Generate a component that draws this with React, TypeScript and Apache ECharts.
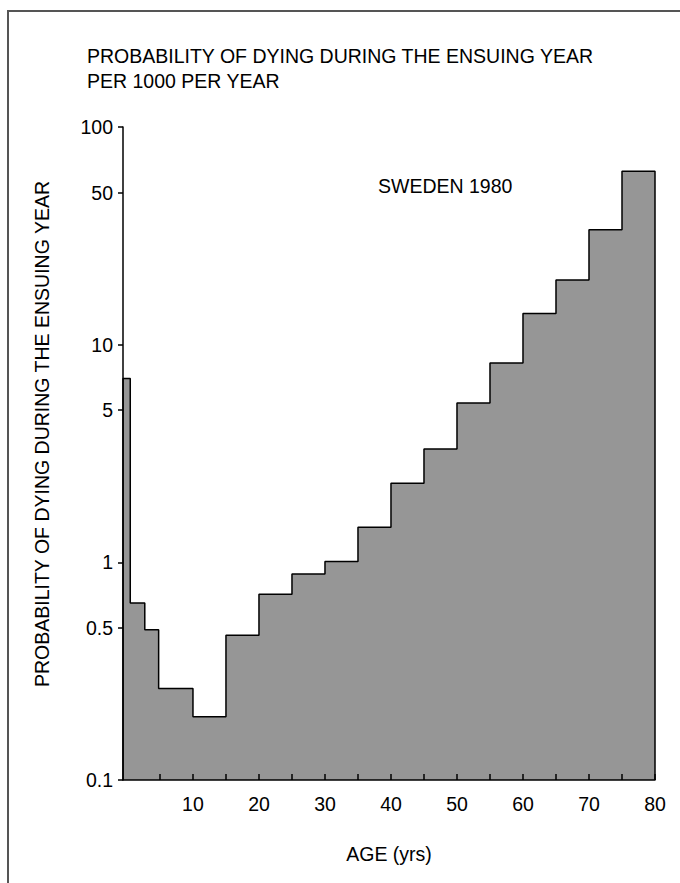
import React, { useEffect, useRef } from "react";
import * as echarts from "echarts";

// Age group start (years) of each step; last group ends at AGE_END
const ageStart = [-0.6, 0.5, 2.7, 4.8, 10, 15, 20, 25, 30, 35, 40, 45, 50, 55, 60, 65, 70, 75];
const AGE_END = 80;
// Probability of dying during the ensuing year, per 1000 per year
const probPer1000 = [7.0, 0.65, 0.49, 0.263, 0.195, 0.463, 0.713, 0.885, 1.01, 1.45, 2.31, 3.32, 5.4, 8.24, 13.9, 19.8, 33.7, 62.7];

const xTickValues = [5, 10, 15, 20, 25, 30, 35, 40, 45, 50, 55, 60, 65, 70, 75, 80];
const xLabelValues = [10, 20, 30, 40, 50, 60, 70, 80];
const yTickValues = [0.1, 0.5, 1, 5, 10, 50, 100];

const FONT = "Liberation Sans, Arial, sans-serif";
const FS = 19.5;

export default function App() {
  const ref = useRef<HTMLDivElement>(null);
  useEffect(() => {
    if (!ref.current) return;
    const chart = echarts.init(ref.current, undefined, { renderer: "svg" });
    const yMin = yTickValues[0];
    const yMax = yTickValues[yTickValues.length - 1];
    const data: number[][] = [[ageStart[0], yMin]];
    ageStart.forEach((a, i) => data.push([a, probPer1000[i]]));
    data.push([AGE_END, probPer1000[probPer1000.length - 1]]);
    data.push([AGE_END, yMin]);

    chart.setOption({
      animation: false,
      backgroundColor: "#fff",
      textStyle: { fontFamily: FONT },
      title: {
        text: "PROBABILITY OF DYING DURING THE ENSUING YEAR\nPER 1000 PER YEAR",
        left: 82,
        top: 38,
        textStyle: { fontSize: FS, fontWeight: "normal", color: "#000", fontFamily: FONT, lineHeight: 25 },
      },
      grid: { left: 123, right: 25, top: 127, bottom: 103 },
      xAxis: {
        type: "value",
        min: ageStart[0],
        max: AGE_END,
        z: 10,
        name: "AGE (yrs)",
        nameLocation: "middle",
        nameGap: 64,
        nameTextStyle: { fontSize: FS, color: "#000", fontFamily: FONT },
        axisLine: { onZero: false, lineStyle: { color: "#000", width: 1.5 } },
        axisTick: { show: true, inside: true, length: 6, customValues: xTickValues, lineStyle: { color: "#000", width: 1.5 } },
        axisLabel: { customValues: xLabelValues, fontSize: FS, color: "#000", margin: 14, fontFamily: FONT },
        splitLine: { show: false },
      },
      yAxis: {
        type: "log",
        logBase: 10,
        min: yMin,
        max: yMax,
        z: 10,
        axisLine: { show: true, onZero: false, lineStyle: { color: "#000", width: 1.5 } },
        axisTick: { show: true, length: 5, customValues: yTickValues, lineStyle: { color: "#000", width: 1.5 } },
        axisLabel: {
          customValues: yTickValues,
          fontSize: FS,
          color: "#000",
          margin: 10,
          fontFamily: FONT,
          formatter: (v: number) => String(+Number(v).toPrecision(3)),
        },
        splitLine: { show: false },
        minorTick: { show: false },
        minorSplitLine: { show: false },
      },
      graphic: [
        {
          type: "rect",
          shape: { x: 8, y: 11, width: 700, height: 900 },
          style: { fill: "none", stroke: "#555", lineWidth: 2 },
          silent: true,
        },
        {
          type: "text",
          x: 378,
          y: 186,
          style: { text: "SWEDEN 1980", fontSize: FS, fill: "#000", fontFamily: FONT, verticalAlign: "middle", align: "left" },
        },
        {
          type: "text",
          x: 42,
          y: 434,
          rotation: Math.PI / 2,
          style: {
            text: "PROBABILITY OF DYING DURING THE ENSUING YEAR",
            fontSize: FS,
            fill: "#000",
            fontFamily: FONT,
            align: "center",
            verticalAlign: "middle",
          },
        },
      ],
      series: [
        {
          type: "line",
          step: "end",
          data,
          symbol: "none",
          lineStyle: { color: "#000", width: 1.5 },
          areaStyle: { color: "#969696", opacity: 1, origin: "start" },
          z: 1,
        },
      ],
    });
    return () => chart.dispose();
  }, []);
  return <div ref={ref} style={{ position: "fixed", left: 0, top: 0, width: 680, height: 883 }} />;
}
